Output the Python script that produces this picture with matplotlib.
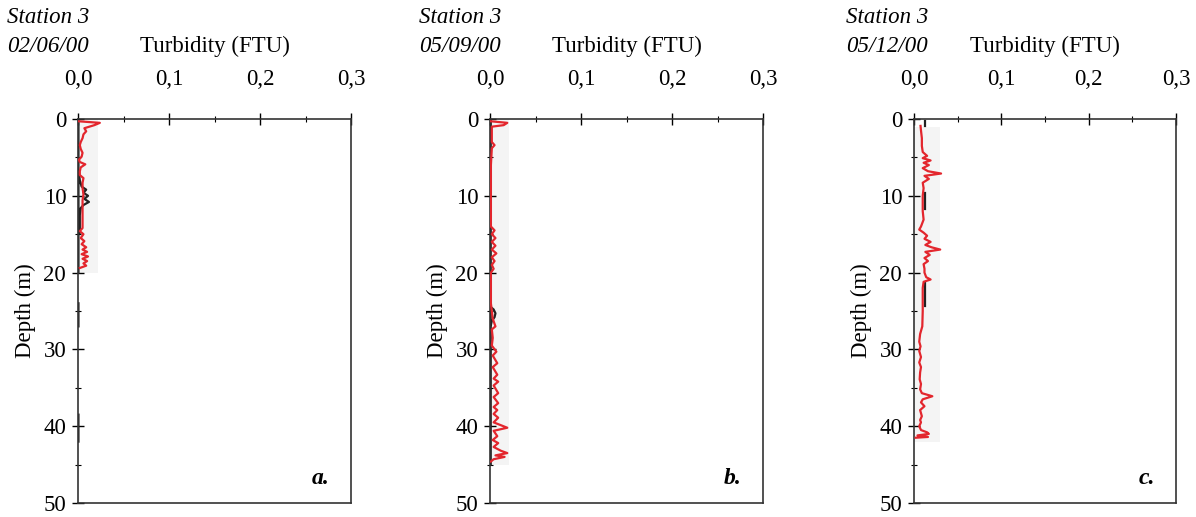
import numpy as np
import matplotlib
matplotlib.use("Agg")
import matplotlib.pyplot as plt
from matplotlib.ticker import MultipleLocator

plt.rcParams['font.family'] = ['Liberation Serif', 'DejaVu Serif']

nan = np.nan

# station / dates / panel letters
dates = ["02/06/00", "05/09/00", "05/12/00"]
letters = ["a.", "b.", "c."]
xticks = [0.0, 0.1, 0.2, 0.3]
xticklabels = ["0,0", "0,1", "0,2", "0,3"]
yticks = [0, 10, 20, 30, 40, 50]

# panel a - red profile
depth_a = [0.3, 0.5, 0.8, 1.2, 1.6, 2.0, 2.5, 3.0, 3.4, 3.9, 4.4, 4.9, 5.3, 5.6,
           5.9, 6.3, 6.8, 7.3, 7.7, 8.3, 9.0, 9.8, 10.6, 11.4, 12.2, 13.0, 13.8,
           14.2, 14.6, 15.0, 15.5, 15.9, 16.3, 16.7, 17.0, 17.3, 17.6, 17.9, 18.2,
           18.5, 18.8, 19.1, 19.4]
turb_a = [0.001, 0.024, 0.018, 0.007, 0.009, 0.006, 0.005, 0.003, 0.002, 0.003,
          0.005, 0.004, 0.001, 0.002, 0.008, 0.003, 0.002, 0.002, 0.006, 0.005,
          0.005, 0.006, 0.005, 0.005, 0.005, 0.005, 0.005, 0.005, 0.002, 0.006,
          0.003, 0.007, 0.004, 0.009, 0.005, 0.010, 0.004, 0.011, 0.005, 0.010,
          0.006, 0.009, 0.002]
# panel a - black profile
depth_ak = [0.0, 20.0, nan, 7.0, 8.0, 8.8, 9.2, 9.6, 10.0, 10.4, 10.8, 11.2, 11.6,
            12.5, 13.5, 14.8, nan, 24.0, 27.0, nan, 38.5, 42.0]
turb_ak = [0.0005, 0.0005, nan, 0.001, 0.002, 0.004, 0.009, 0.006, 0.011, 0.007,
           0.012, 0.006, 0.003, 0.002, 0.002, 0.002, nan, 0.0005, 0.0005, nan,
           0.0005, 0.0005]

# panel b - red profile
depth_b = [0.3, 0.5, 0.8, 1.0, 2.0, 3.0, 3.4, 3.8, 6.0, 10.0, 14.0, 14.5, 15.0,
           15.5, 16.0, 16.5, 17.0, 17.5, 18.0, 18.5, 19.0, 19.5, 20.0, 24.0, 25.0,
           26.0, 27.0, 27.4, 28.5, 29.5, 30.3, 30.8, 31.8, 32.3, 33.3, 33.8, 34.2,
           34.7, 35.7, 36.2, 37.0, 37.5, 37.9, 38.4, 38.9, 39.5, 40.2, 40.6, 41.3,
           41.8, 42.2, 42.7, 43.2, 43.5, 43.8, 44.0, 44.3, 44.6]
turb_b = [0.001, 0.019, 0.015, 0.002, 0.002, 0.002, 0.005, 0.002, 0.001, 0.001,
          0.001, 0.005, 0.002, 0.006, 0.002, 0.006, 0.002, 0.007, 0.002, 0.005,
          0.002, 0.004, 0.001, 0.001, 0.002, 0.003, 0.006, 0.002, 0.003, 0.002,
          0.007, 0.003, 0.008, 0.003, 0.008, 0.004, 0.009, 0.004, 0.009, 0.004,
          0.009, 0.004, 0.008, 0.004, 0.009, 0.004, 0.019, 0.004, 0.008, 0.003,
          0.009, 0.004, 0.012, 0.019, 0.006, 0.016, 0.004, 0.001]
# panel b - black profile
depth_bk = [0.0, 45.0, nan, 24.5, 24.8, 25.3, 25.8, 26.3, 26.8]
turb_bk = [0.0008, 0.0008, nan, 0.001, 0.004, 0.006, 0.005, 0.002, 0.001]

# panel c - red profile
depth_c = [0.9, 1.5, 2.5, 3.5, 4.3, 4.8, 5.1, 5.4, 5.7, 6.0, 6.4, 6.8, 7.1, 7.4,
           7.8, 8.3, 9.0, 10.0, 11.0, 12.0, 13.1, 14.0, 14.4, 14.8, 15.2, 15.6,
           16.0, 16.4, 16.7, 17.0, 17.3, 17.7, 18.1, 18.5, 18.9, 19.5, 20.0, 20.6,
           20.9, 21.2, 22.0, 23.0, 25.0, 27.0, 28.0, 29.0, 29.6, 30.2, 31.0, 31.7,
           32.3, 33.0, 33.9, 34.5, 35.2, 35.7, 36.1, 36.5, 36.9, 37.4, 37.9, 38.7,
           39.2, 39.5, 40.0, 40.5, 40.8, 41.0, 41.2, 41.4, 41.5]
turb_c = [0.0075, 0.008, 0.009, 0.009, 0.010, 0.015, 0.010, 0.019, 0.011, 0.017,
          0.010, 0.016, 0.031, 0.012, 0.017, 0.010, 0.011, 0.010, 0.010, 0.010,
          0.011, 0.008, 0.006, 0.011, 0.015, 0.012, 0.019, 0.013, 0.020, 0.030,
          0.013, 0.018, 0.012, 0.016, 0.011, 0.012, 0.012, 0.014, 0.019, 0.011,
          0.010, 0.010, 0.010, 0.0095, 0.007, 0.006, 0.0075, 0.006, 0.008, 0.006,
          0.008, 0.007, 0.0065, 0.008, 0.007, 0.009, 0.021, 0.010, 0.008, 0.012,
          0.007, 0.009, 0.007, 0.008, 0.006, 0.008, 0.015, 0.017, 0.004, 0.016,
          0.002]
# panel c - black profile
depth_ck = [1.0, 14.0, nan, 33.0, 40.0, nan, 0.3, 0.9, nan, 9.6, 11.7, nan, 21.4, 24.3]
turb_ck = [-0.001, -0.001, nan, -0.001, -0.001, nan, 0.013, 0.013, nan, 0.013,
           0.013, nan, 0.013, 0.013]

red_profiles = [(turb_a, depth_a), (turb_b, depth_b), (turb_c, depth_c)]
black_profiles = [(turb_ak, depth_ak), (turb_bk, depth_bk), (turb_ck, depth_ck)]

# faint scan shading behind each profile (x max, depth top, depth bottom)
shade = [(0.022, 0, 20), (0.021, 0, 45), (0.030, 1, 42)]

fig = plt.figure(figsize=(11.96, 5.17), dpi=100)
lefts = [78, 490, 914]
widths = [273, 273, 262]
top_px, bot_px = 119, 503

red = "#e3262d"

for i in range(3):
    ax = fig.add_axes([lefts[i] / 1196, 1 - bot_px / 517,
                       widths[i] / 1196, (bot_px - top_px) / 517])
    sx, st, sb = shade[i]
    ax.fill_betweenx([st, sb], 0, sx, color="#f4f4f4", lw=0, zorder=0)
    bx, by = black_profiles[i]
    ax.plot(bx, by, color="#222222", lw=1.6, zorder=2)
    rx, ry = red_profiles[i]
    ax.plot(rx, ry, color=red, lw=1.6, zorder=3)

    ax.set_xlim(0, 0.3)
    ax.set_ylim(50, 0)
    ax.xaxis.tick_top()
    ax.set_xticks(xticks)
    ax.set_xticklabels(xticklabels)
    ax.xaxis.set_minor_locator(MultipleLocator(0.05))
    ax.set_yticks(yticks)
    ax.yaxis.set_minor_locator(MultipleLocator(5))
    ax.tick_params(axis='x', which='major', direction='inout', length=8,
                   width=1, labelsize=16.5, pad=17)
    ax.tick_params(axis='x', which='minor', direction='inout', length=4, width=0.8)
    ax.tick_params(axis='y', which='major', direction='inout', length=9,
                   width=1, labelsize=16.5, pad=4)
    ax.tick_params(axis='y', which='minor', direction='inout', length=5, width=0.8)
    for s in ax.spines.values():
        s.set_linewidth(1.2)
        s.set_color("#333333")

    ax.set_ylabel("Depth (m)", fontsize=16.5, labelpad=5)
    ax.text(0.5, 1.19, "Turbidity (FTU)", transform=ax.transAxes,
            ha='center', va='center', fontsize=16.5)
    ax.text(-0.26, 1.265, "Station 3", transform=ax.transAxes, ha='left',
            va='center', fontsize=16.5, style='italic')
    ax.text(-0.26, 1.19, dates[i], transform=ax.transAxes, ha='left',
            va='center', fontsize=16.5, style='italic')
    ax.text(0.92, 0.065, letters[i], transform=ax.transAxes, ha='right',
            va='center', fontsize=17, style='italic', weight='bold')

fig.savefig("out.png", dpi=100)
